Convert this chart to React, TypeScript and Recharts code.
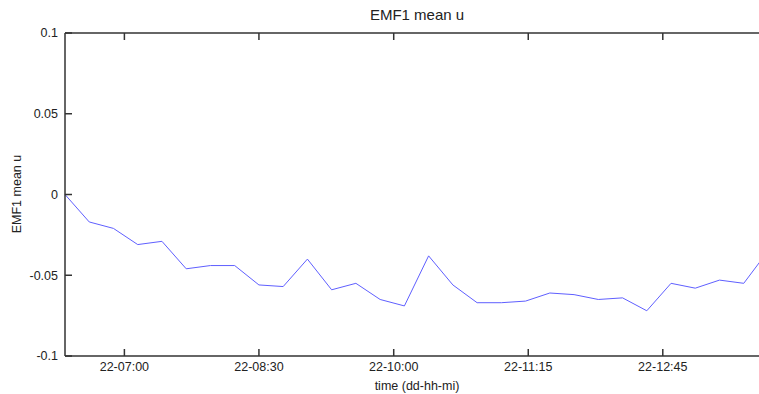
import { LineChart, Line, XAxis, YAxis } from 'recharts';

// EMF1 mean u, one value per sample
const meanU = [
  0, -0.017, -0.021, -0.031, -0.029, -0.046, -0.044, -0.044, -0.056, -0.057,
  -0.04, -0.059, -0.055, -0.065, -0.069, -0.038, -0.056, -0.067, -0.067, -0.066,
  -0.061, -0.062, -0.065, -0.064, -0.072, -0.055, -0.058, -0.053, -0.055, -0.035,
];

// time ticks, placed at (fractional) sample positions
const timeLabels = ['22-07:00', '22-08:30', '22-10:00', '22-11:15', '22-12:45'];
const timeTickAt = [2.45, 8.0, 13.56, 19.11, 24.66];

const yTicks = [-0.1, -0.05, 0, 0.05, 0.1];

const data = meanU.map((v, i) => ({ sample: i, value: v }));

const FONT = 'Arial, "Liberation Sans", sans-serif';
const TEXT = '#222';
const AXIS = '#333';

const tickText = { fill: TEXT, fontSize: 12.5, fontFamily: FONT };
const noText = { fill: 'none', fontSize: 1 };
const axisLine = { stroke: AXIS, strokeWidth: 1.5 };
const tickLine = { stroke: AXIS, strokeWidth: 1.5 };

const timeLabel = (v: number) => timeLabels[timeTickAt.indexOf(v)] ?? '';
const blank = () => '';

export default function App() {
  return (
    <div
      style={{
        position: 'absolute',
        left: 0,
        top: 0,
        width: 759,
        height: 394,
        overflow: 'hidden',
        background: '#fff',
        fontFamily: FONT,
        color: TEXT,
      }}
    >
      <LineChart
        width={800}
        height={394}
        data={data}
        margin={{ top: 32, right: 31, bottom: 0, left: 5 }}
      >
        {/* negative tickSize turns the ticks inward, as on a boxed plot */}
        <XAxis
          xAxisId="bottom"
          dataKey="sample"
          type="number"
          domain={[0, meanU.length - 1]}
          ticks={timeTickAt}
          interval={0}
          height={38}
          tickSize={-7}
          tickMargin={13}
          tickFormatter={timeLabel}
          tick={tickText}
          axisLine={axisLine}
          tickLine={tickLine}
        />
        <XAxis
          xAxisId="top"
          orientation="top"
          dataKey="sample"
          type="number"
          domain={[0, meanU.length - 1]}
          ticks={timeTickAt}
          interval={0}
          height={1}
          tickSize={-7}
          tickFormatter={blank}
          tick={noText}
          axisLine={axisLine}
          tickLine={tickLine}
        />
        <YAxis
          yAxisId="left"
          type="number"
          domain={[-0.1, 0.1]}
          ticks={yTicks}
          interval={0}
          width={60}
          tickSize={-7}
          tickMargin={14}
          tickFormatter={(v: number) => String(v)}
          tick={tickText}
          axisLine={axisLine}
          tickLine={tickLine}
        />
        <YAxis
          yAxisId="right"
          orientation="right"
          type="number"
          domain={[-0.1, 0.1]}
          ticks={yTicks}
          interval={0}
          width={1}
          tickSize={-7}
          tickFormatter={blank}
          tick={noText}
          axisLine={axisLine}
          tickLine={tickLine}
        />
        <Line
          xAxisId="bottom"
          yAxisId="left"
          dataKey="value"
          type="linear"
          stroke="#5f5fff"
          strokeWidth={1}
          dot={false}
          isAnimationActive={false}
        />
      </LineChart>
      <div
        style={{
          position: 'absolute',
          left: 317,
          width: 200,
          top: 5,
          textAlign: 'center',
          fontSize: 15,
          lineHeight: '20px',
        }}
      >
        EMF1 mean u
      </div>
      <div
        style={{
          position: 'absolute',
          left: 317,
          width: 200,
          top: 378,
          textAlign: 'center',
          fontSize: 12.5,
          lineHeight: '16px',
        }}
      >
        time (dd-hh-mi)
      </div>
      <div
        style={{
          position: 'absolute',
          left: 17 - 60,
          width: 120,
          top: 194 - 8,
          textAlign: 'center',
          fontSize: 12.5,
          lineHeight: '16px',
          transform: 'rotate(-90deg)',
        }}
      >
        EMF1 mean u
      </div>
    </div>
  );
}
